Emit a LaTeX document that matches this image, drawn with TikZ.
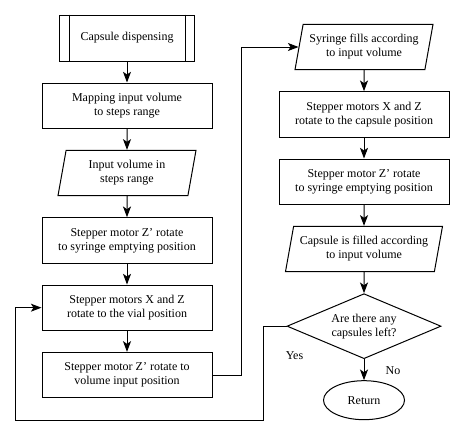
\documentclass[tikz,border=0pt]{standalone}
\usepackage{fontspec}
\setmainfont{Liberation Serif}
\usetikzlibrary{arrows.meta,positioning,shapes.geometric}

\begin{document}
\begin{tikzpicture}[x=0.75pt,y=0.75pt,->,>={Stealth[length=8pt,width=6pt,inset=2pt]},
  line width=0.75pt,node distance=15.75pt,
  every node/.style={font=\fontsize{9}{10.5}\selectfont,align=center},
  proc node/.style={rectangle,draw,minimum width=127.5pt,minimum height=34pt,inner sep=2pt},
  sub node/.style={rectangle,draw,minimum width=101.25pt,minimum height=34.5pt,inner sep=2pt},
  io node/.style={trapezium,draw,trapezium left angle=75,trapezium right angle=105,
    trapezium stretches body,minimum width=103.5pt,minimum height=34pt,inner sep=2pt},
  dec node/.style={diamond,draw,shape aspect=2.4,minimum width=115.5pt,minimum height=48.75pt,inner sep=0pt},
  term node/.style={ellipse,draw,minimum width=60.75pt,minimum height=29.25pt,inner sep=1pt}]

  \useasboundingbox (0,0) rectangle (464,-436);

  % left column
  \node[sub node] (start) at (127,-38) {Capsule dispensing};
  \node[proc node] (map) [below=of start] {Mapping input volume\\to steps range};
  \node[io node] (inp) [below=of map] {Input volume in\\steps range};
  \node[proc node] (zrot1) [below=of inp] {Stepper motor Z' rotate\\to syringe emptying position};
  \node[proc node] (vial) [below=of zrot1] {Stepper motors X and Z\\rotate to the vial position};
  \node[proc node] (volin) [below=of vial] {Stepper motor Z' rotate to\\volume input position};

  % right column
  \node[io node] (syr) at (364,-47) {Syringe fills according\\to input volume};
  \node[proc node] (caps) [below=of syr] {Stepper motors X and Z\\rotate to the capsule position};
  \node[proc node] (zrot2) [below=of caps] {Stepper motor Z' rotate\\to syringe emptying position};
  \node[io node,minimum width=117.75pt] (fill) [below=of zrot2] {Capsule is filled according\\to input volume};
  \node[dec node] (dec) [below=of fill] {Are there any\\capsules left?};
  \node[term node] (ret) [below=of dec] {Return};

  \draw[-] ([xshift=7.5pt]start.north west) -- ([xshift=7.5pt]start.south west);
  \draw[-] ([xshift=-7.5pt]start.north east) -- ([xshift=-7.5pt]start.south east);

  \node (yes) at ([xshift=6pt,yshift=-21.75pt]dec.west) {Yes};
  \node (no) at ([xshift=21.75pt,yshift=-8.25pt]dec.south) {No};

  \path (start) edge (map)
        (map) edge (inp)
        (inp) edge (zrot1)
        (zrot1) edge (vial)
        (vial) edge (volin)
        (syr) edge (caps)
        (caps) edge (zrot2)
        (zrot2) edge (fill)
        (fill) edge (dec)
        (dec) edge (ret);

  \draw (volin.east) -- ++(29,0) |- (syr.west);

  \coordinate (loopa) at (263,-420);
  \coordinate (loopb) at (15,-420);
  \draw (dec.west) -| (loopa) -- (loopb) |- (vial.west);
\end{tikzpicture}
\end{document}
